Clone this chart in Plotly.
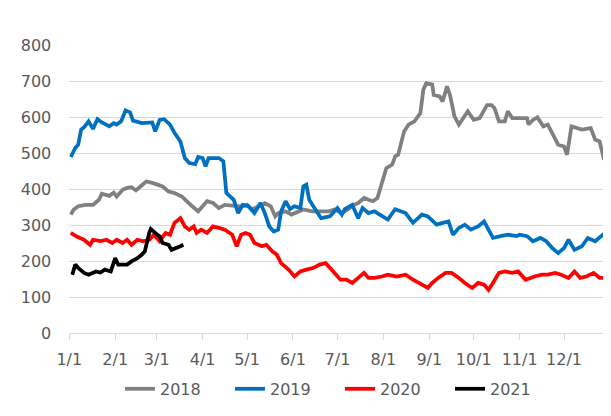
import plotly.graph_objects as go

# ---- data (day of year, value) ----
days_2018 = [1, 3, 6, 11, 16, 20, 22, 27, 30, 32, 36, 39, 42, 45, 48, 52, 56, 59, 63, 67,
             71, 76, 79, 83, 87, 90, 93, 97, 101, 105, 110, 115, 120, 123, 128, 132, 136, 139, 141, 146,
             150, 155, 158, 164, 170, 175, 179, 184, 188, 192, 195, 199, 202, 205, 208, 211, 214, 218, 220, 222,
             226, 229, 233, 237, 239, 241, 245, 246, 250, 252, 255, 257, 260, 263, 265, 269, 273, 277, 282, 285,
             287, 290, 294, 296, 299, 304, 309, 310, 313, 316, 320, 323, 327, 330, 334, 336, 339, 343, 346, 352,
             355, 358, 361]
vals_2018 = [329, 343, 352, 356, 356, 370, 387, 381, 390, 379, 398, 403, 405, 396, 407, 421, 417, 412, 407, 393,
             389, 379, 366, 352, 338, 352, 366, 361, 347, 356, 353, 352, 356, 343, 352, 361, 352, 324, 333, 338,
             329, 338, 343, 338, 338, 338, 343, 333, 343, 356, 361, 375, 370, 366, 375, 417, 458, 468, 491, 495,
             560, 579, 588, 611, 676, 694, 690, 661, 657, 643, 685, 661, 602, 579, 592, 616, 592, 597, 633, 633,
             625, 588, 588, 616, 597, 597, 597, 579, 592, 599, 574, 579, 546, 523, 518, 495, 574, 569, 565, 569,
             537, 532, 481]

days_2019 = [1, 4, 6, 8, 10, 13, 16, 19, 22, 27, 30, 32, 35, 38, 41, 43, 49, 56, 58, 61,
             64, 68, 71, 75, 78, 81, 85, 87, 90, 92, 94, 101, 104, 106, 111, 114, 117, 121, 125, 129,
             132, 135, 138, 141, 143, 146, 149, 152, 156, 158, 160, 162, 166, 170, 176, 181, 184, 186, 191, 195,
             198, 202, 206, 215, 220, 227, 232, 238, 242, 247, 248, 252, 256, 259, 263, 267, 271, 276, 280, 283,
             286, 291, 296, 302, 304, 309, 313, 318, 322, 326, 330, 334, 337, 341, 346, 350, 355, 359, 363, 365]
vals_2019 = [489, 514, 523, 565, 572, 588, 567, 594, 585, 574, 583, 579, 588, 618, 613, 590, 583, 585, 560, 592,
             594, 579, 556, 532, 486, 472, 469, 489, 486, 463, 486, 486, 477, 389, 370, 333, 356, 352, 333, 361,
             333, 296, 282, 287, 338, 366, 344, 352, 347, 407, 412, 370, 344, 319, 324, 347, 329, 344, 356, 319,
             347, 333, 338, 315, 344, 333, 306, 329, 324, 306, 301, 306, 310, 273, 292, 301, 287, 296, 310, 287,
             264, 269, 273, 269, 273, 269, 255, 264, 255, 236, 222, 236, 259, 231, 241, 264, 255, 269, 282, 273]

days_2020 = [1, 5, 10, 14, 16, 21, 25, 29, 32, 36, 39, 42, 46, 50, 54, 57, 61, 65, 68, 71,
             75, 78, 81, 84, 86, 89, 93, 97, 101, 105, 110, 113, 116, 119, 122, 125, 130, 133, 137, 140,
             143, 148, 152, 156, 160, 165, 169, 173, 176, 179, 183, 187, 191, 195, 199, 202, 206, 211, 215, 221,
             227, 232, 238, 242, 245, 249, 254, 258, 263, 267, 272, 276, 280, 283, 286, 290, 294, 299, 303, 305,
             308, 314, 319, 323, 328, 332, 337, 341, 345, 349, 354, 358, 362, 365]
vals_2020 = [278, 268, 259, 245, 259, 255, 259, 250, 259, 250, 259, 245, 259, 255, 259, 273, 255, 278, 273, 306,
             319, 296, 287, 296, 278, 287, 278, 296, 292, 287, 273, 241, 273, 278, 273, 250, 241, 245, 227, 218,
             194, 176, 157, 171, 176, 181, 190, 194, 181, 167, 148, 148, 139, 153, 167, 153, 153, 157, 162, 157,
             162, 148, 134, 125, 139, 153, 167, 167, 153, 139, 125, 139, 134, 120, 139, 167, 171, 167, 171, 162,
             148, 157, 162, 162, 167, 162, 153, 171, 153, 157, 167, 153, 153, 157]

days_2021 = [2, 4, 6, 10, 13, 18, 21, 24, 28, 30, 31, 33, 39, 42, 46, 49, 51, 54, 55, 58,
             61, 63, 67, 69, 73, 75, 77]
vals_2021 = [162, 190, 181, 167, 162, 171, 168, 176, 171, 199, 208, 190, 190, 199, 208, 218, 227, 278, 289, 278,
             268, 250, 245, 231, 236, 241, 245]

series_names = ["2018", "2019", "2020", "2021"]
series_colors = ["#808080", "#0070C0", "#FF0000", "#000000"]

month_days = [0, 31, 59, 90, 120, 151, 181, 212, 243, 273, 304, 334]
month_labels = ["1/1", "2/1", "3/1", "4/1", "5/1", "6/1", "7/1", "8/1", "9/1", "10/1", "11/1", "12/1"]
y_ticks = [0, 100, 200, 300, 400, 500, 600, 700, 800]

FONT = "DejaVu Sans"
TXT = "#595959"

# The page body adds an 8px offset, so the figure is sized/placed to compensate.
fig = go.Figure()
for name, d, v, c in zip(series_names,
                         [days_2018, days_2019, days_2020, days_2021],
                         [vals_2018, vals_2019, vals_2020, vals_2021],
                         series_colors):
    fig.add_trace(go.Scatter(x=d, y=v, mode="lines", name=name,
                             line=dict(color=c, width=3.75)))

fig.update_layout(
    template="none",
    width=603, height=408,
    margin=dict(l=0, r=1, t=37, b=83, autoexpand=False),
    paper_bgcolor="white", plot_bgcolor="white",
    font=dict(family=FONT, size=16, color=TXT),
    showlegend=True,
    legend=dict(orientation="h", x=0.186, xanchor="left", y=-0.135, yanchor="top",
                entrywidth=65, entrywidthmode="pixels",
                font=dict(family=FONT, size=16, color=TXT),
                bgcolor="rgba(0,0,0,0)", borderwidth=0),
    xaxis=dict(domain=[61.3 / 602, 1.0], range=[0, 365], tickmode="array",
               tickvals=month_days, ticktext=month_labels, automargin=False,
               showgrid=False, zeroline=False, showline=True, linecolor="#d9d9d9", linewidth=1,
               ticks="outside", ticklen=6, tickcolor="#d9d9d9", tickwidth=1,
               ticklabelstandoff=6, tickfont=dict(family=FONT, size=16, color=TXT)),
    yaxis=dict(range=[0, 800], tickmode="array", tickvals=y_ticks, automargin=False,
               showgrid=True, gridcolor="#d9d9d9", gridwidth=1, zeroline=False, showline=False,
               ticks="", ticklabelstandoff=17, tickfont=dict(family=FONT, size=16, color=TXT)),
)

fig.write_html("out.html")
